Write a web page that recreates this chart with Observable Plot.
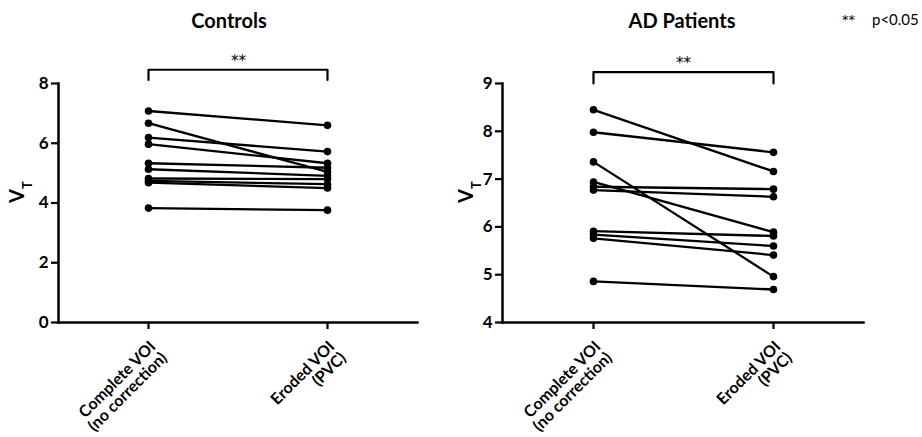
<!DOCTYPE html>
<html>
<head>
<meta charset="utf-8">
<script src="https://cdn.jsdelivr.net/npm/d3@7"></script>
<script src="https://cdn.jsdelivr.net/npm/@observablehq/plot@0.6"></script>
<style>
  body { margin: 0; background: #fff; }
  #wrap { position: relative; width: 922px; height: 437px; overflow: hidden; font-family: Lato, "Open Sans", sans-serif; color: #000; }
  .title { position: absolute; top: 8px; font-weight: bold; font-size: 20px; line-height: 24px; text-align: center; width: 200px; }
  .box { position: absolute; top: 40px; }
  .note { position: absolute; top: 10px; font-size: 15px; line-height: 18px; }
  .star { font-family: "DejaVu Sans", sans-serif; font-size: 13px; top: 11px; }
</style>
</head>
<body>
<div id="wrap">
  <div class="title" style="left:129px">Controls</div>
  <div class="title" style="left:582px">AD Patients</div>
  <div class="note star" style="left:842px">**</div>
  <div class="note" style="left:872px">p&lt;0.05</div>
  <div class="box" id="left" style="left:0px"></div>
  <div class="box" id="right" style="left:460px"></div>
</div>
<script>
// ---- data ----
const conditions = ["Complete VOI\n(no correction)", "Eroded VOI\n(PVC)"];
const controlsComplete = [7.08, 6.67, 6.19, 5.97, 5.33, 5.13, 4.82, 4.74, 4.68, 3.83];
const controlsEroded   = [6.60, 5.04, 5.72, 5.33, 5.18, 4.91, 4.80, 4.63, 4.50, 3.76];
const adComplete = [8.45, 7.98, 7.36, 6.94, 6.84, 6.77, 5.91, 5.84, 5.76, 4.86];
const adEroded   = [7.16, 7.56, 4.96, 5.89, 6.79, 6.63, 5.81, 5.60, 5.41, 4.69];
const controlsTicks = [0, 2, 4, 6, 8];
const adTicks = [4, 5, 6, 7, 8, 9];
const controlsDomain = [0, 8];
const adDomain = [4, 9];
// significance bracket levels: [arm bottom, bar, star label]
const controlsBracket = [8.12, 8.46, 8.76];
const adBracket = [9.0, 9.24, 9.43];
const sigLabel = "**";
const yLabel = "V";
const ySub = "T";

function toRows(a, b) {
  const rows = [];
  a.forEach((v, i) => {
    rows.push({subject: i, condition: conditions[0], value: v});
    rows.push({subject: i, condition: conditions[1], value: b[i]});
  });
  return rows;
}

function panel({rows, ticks, domain, bracket, marginLeft, marginRight, width, labelDx}) {
  const br = [
    {x: conditions[0], y: bracket[0]},
    {x: conditions[0], y: bracket[1]},
    {x: conditions[1], y: bracket[1]},
    {x: conditions[1], y: bracket[0]}
  ];
  const svg = Plot.plot({
    width, height: 397,
    marginLeft, marginRight, marginTop: 43, marginBottom: 115,
    style: {fontFamily: "Lato, 'Open Sans', sans-serif", background: "white", color: "black", overflow: "visible"},
    x: {type: "point", domain: conditions, padding: 0.5, label: null},
    y: {domain, label: null},
    marks: [
      Plot.frame({anchor: "left", strokeWidth: 2.5}),
      Plot.frame({anchor: "bottom", strokeWidth: 2.5}),
      Plot.axisY({ticks, tickSize: 7, tickPadding: 3, strokeWidth: 2.2, fontSize: 17, fontWeight: "bold", tickFormat: d3.format("d"), label: null}),
      Plot.axisX({tickSize: 7, tickRotate: -45, tickPadding: 10, lineAnchor: "top", strokeWidth: 2.2, fontSize: 16, fontWeight: "bold", label: null}),
      Plot.line(rows, {x: "condition", y: "value", z: "subject", stroke: "black", strokeWidth: 2.3}),
      Plot.dot(rows, {x: "condition", y: "value", r: 3.8, fill: "black", stroke: "none"}),
      Plot.line(br, {x: "x", y: "y", stroke: "black", strokeWidth: 2.2}),
      Plot.text([sigLabel], {x: () => conditions[0], y: () => bracket[2], dx: 90, text: d => d, fontSize: 15, fontFamily: "DejaVu Sans"}),
      Plot.text([yLabel], {frameAnchor: "left", dx: labelDx, rotate: -90, text: d => d, fontSize: 20, fontWeight: "bold"})
    ]
  });
  d3.select(svg).selectAll("text").filter(function() { return this.textContent === yLabel; })
    .append("tspan").attr("baseline-shift", "sub").attr("font-size", "13px").text(ySub);
  return svg;
}

document.getElementById("left").appendChild(panel({
  rows: toRows(controlsComplete, controlsEroded), ticks: controlsTicks, domain: controlsDomain,
  bracket: controlsBracket, marginLeft: 58, marginRight: 43, width: 460, labelDx: -41
}));
document.getElementById("right").appendChild(panel({
  rows: toRows(adComplete, adEroded), ticks: adTicks, domain: adDomain,
  bracket: adBracket, marginLeft: 42, marginRight: 59, width: 462, labelDx: -36
}));
</script>
</body>
</html>
